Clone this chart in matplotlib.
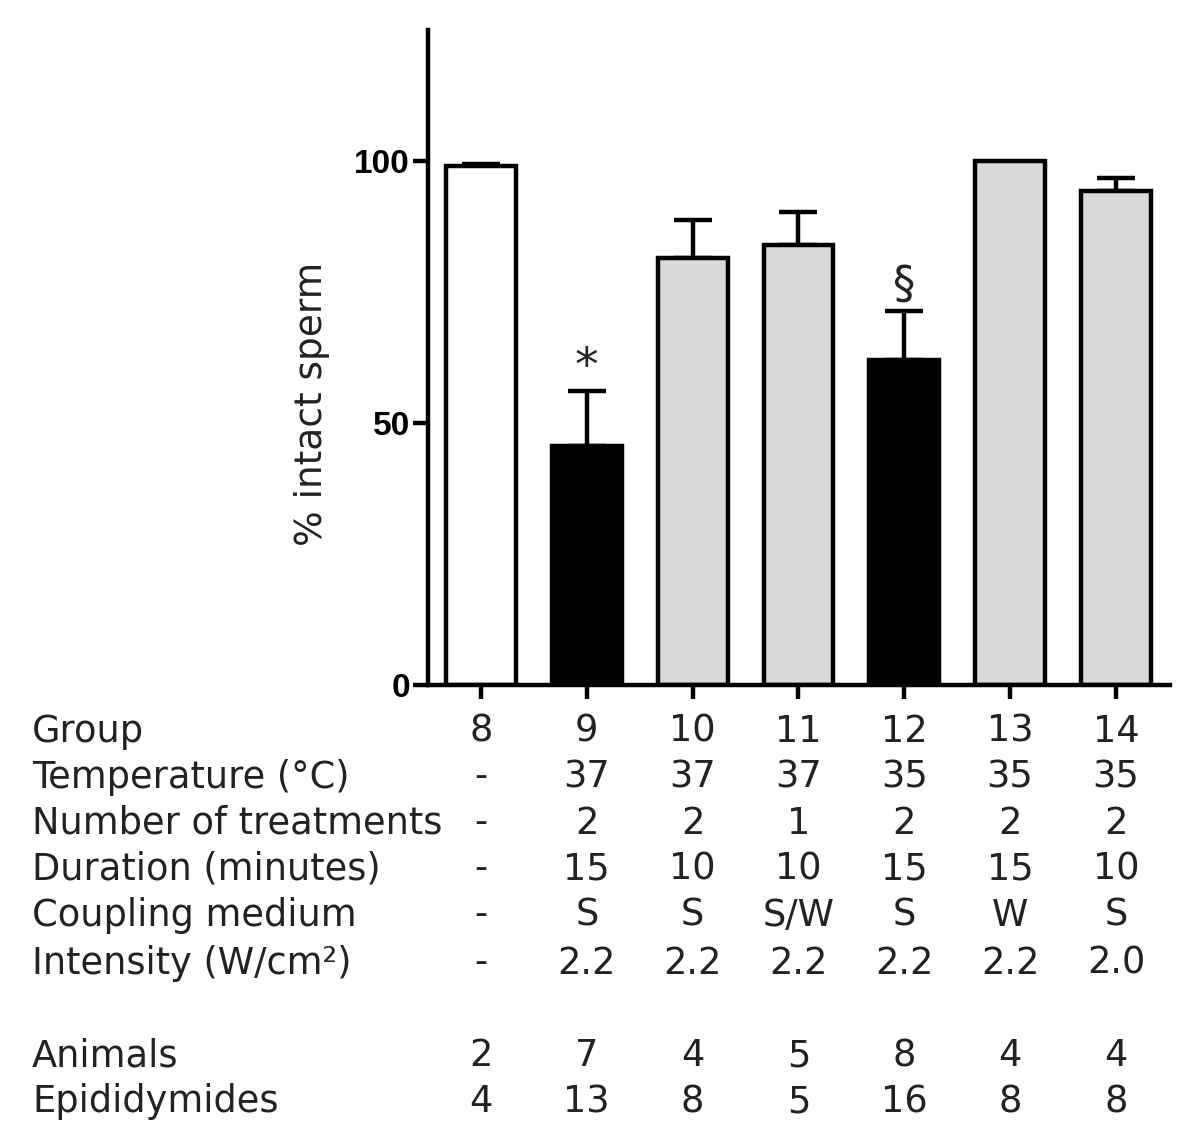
import matplotlib
matplotlib.use("Agg")
import matplotlib.pyplot as plt
import matplotlib.transforms as mtransforms

groups = ["8", "9", "10", "11", "12", "13", "14"]
values = [99.0, 45.6, 81.5, 84.0, 62.0, 100.0, 94.3]
errors = [0.5, 10.5, 7.2, 6.3, 9.4, 0.0, 2.5]
colors = ["#ffffff", "#000000", "#d8d9db", "#d8d9db", "#000000", "#d8d9db", "#d8d9db"]
markers = ["", "*", "", "", "§", "", ""]

row_labels = ["Temperature (°C)", "Number of treatments", "Duration (minutes)",
              "Coupling medium", "Intensity (W/cm²)"]
temperature = ["-", "37", "37", "37", "35", "35", "35"]
treatments = ["-", "2", "2", "1", "2", "2", "2"]
duration = ["-", "15", "10", "10", "15", "15", "10"]
coupling = ["-", "S", "S", "S/W", "S", "W", "S"]
intensity = ["-", "2.2", "2.2", "2.2", "2.2", "2.2", "2.0"]
animals = ["2", "7", "4", "5", "8", "4", "4"]
epididymides = ["4", "13", "8", "5", "16", "8", "8"]

W, H = 1200, 1144
fig = plt.figure(figsize=(W / 100, H / 100), dpi=100)
ax = fig.add_axes([428 / W, 1 - 685 / H, (1170 - 428) / W, (685 - 30) / H])

x = list(range(len(groups)))
lw = 3.2
ax.bar(x, values, width=0.66, color=colors, edgecolor="black", linewidth=lw,
       zorder=2)
for xi, v, e in zip(x, values, errors):
    if e > 0:
        ax.errorbar([xi], [v], yerr=[[0], [e]], fmt="none", ecolor="black",
                    elinewidth=lw, capsize=13.5, capthick=lw, zorder=1)
mk_size = {"*": 34, "§": 32}
mk_off = {"*": 2.2, "§": 2.6}
for xi, v, e, m in zip(x, values, errors, markers):
    if m:
        ax.text(xi, v + e + mk_off[m], m, ha="center", va="baseline",
                fontsize=mk_size[m], family="DejaVu Sans", color="#222222")

ax.set_xlim(-0.5, 6.51)
ax.set_ylim(0, 125)
ax.set_yticks([0, 50, 100])
ax.set_yticklabels(["0", "50", "100"], fontsize=24, fontweight="bold",
                   family="Liberation Sans")
fs = 26.5
tcol = "#222222"
ax.set_xticks(x)
ax.set_xticklabels(groups, fontsize=fs, family="DejaVu Sans", color=tcol)
ax.tick_params(axis="y", length=11, width=lw, pad=2)
ax.tick_params(axis="x", length=10, width=lw, pad=10)
for s in ["top", "right"]:
    ax.spines[s].set_visible(False)
for s in ["left", "bottom"]:
    ax.spines[s].set_linewidth(lw)

ax.set_ylabel("% intact sperm", fontsize=27, family="DejaVu Sans", va="center",
              color=tcol)
ax.yaxis.set_label_coords((312 - 428) / (1170 - 428), (685 - 404) / (685 - 30))

trans = mtransforms.blended_transform_factory(ax.transData, fig.transFigure)


def row(label, vals, ypix):
    yf = 1 - ypix / H
    fig.text(32 / W, yf, label, ha="left", va="center", fontsize=fs,
             family="DejaVu Sans", color=tcol)
    if vals is not None:
        for xi, v in zip(x, vals):
            ax.text(xi, yf, v, ha="center", va="center", fontsize=fs,
                    family="DejaVu Sans", color=tcol, transform=trans,
                    clip_on=False)


row("Group", None, 731)
row(row_labels[0], temperature, 777)
row(row_labels[1], treatments, 823)
row(row_labels[2], duration, 869)
row(row_labels[3], coupling, 915)
row(row_labels[4], intensity, 963)
row("Animals", animals, 1056)
row("Epididymides", epididymides, 1102)

fig.savefig("out.png", dpi=100)
